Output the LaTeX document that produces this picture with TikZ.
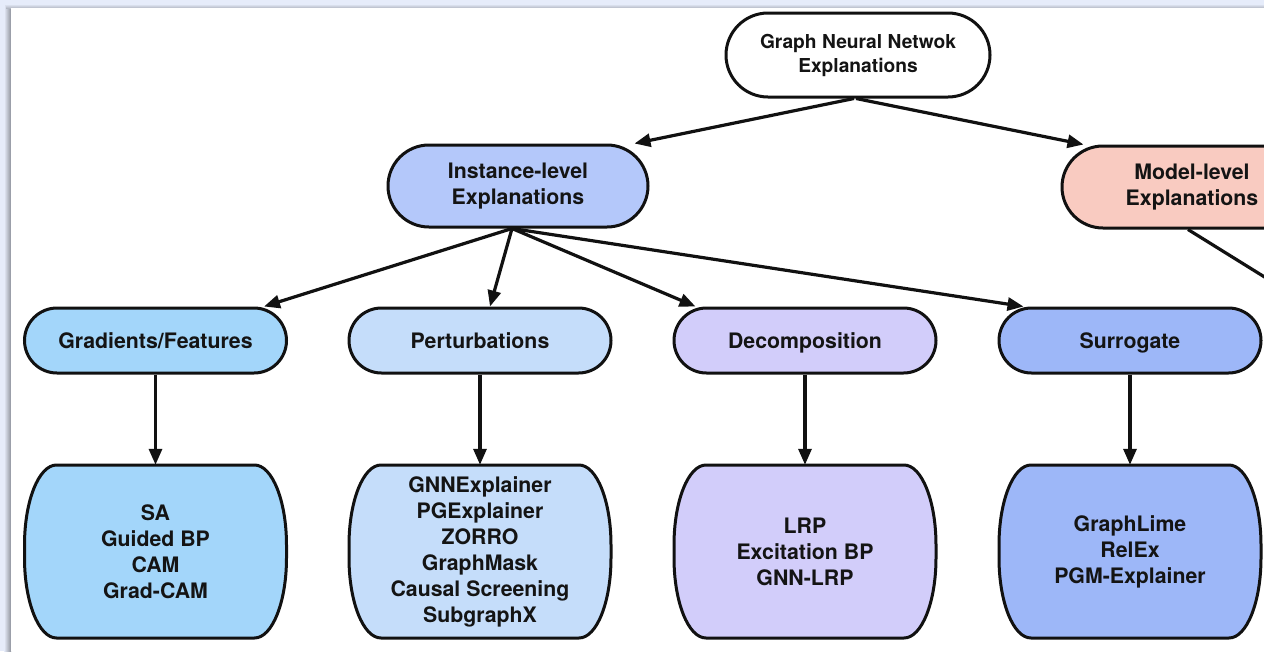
\documentclass[tikz,border=0pt]{standalone}
\usepackage{fontspec}
\setmainfont{TeX Gyre Heros}
\usetikzlibrary{arrows.meta}

\definecolor{framebg}{HTML}{E6ECFA}
\definecolor{inkline}{HTML}{111111}
\definecolor{instfill}{HTML}{B4C8FA}
\definecolor{modelfill}{HTML}{F9CBC1}
\definecolor{gradfill}{HTML}{A3D6FA}
\definecolor{pertfill}{HTML}{C5DDFA}
\definecolor{decofill}{HTML}{D2CDFA}
\definecolor{surrfill}{HTML}{9DB7F8}

% Leaf box: straight top and bottom, elliptically bulging sides.
% #1 name, #2 centre x, #3 centre y, #4 fill, #5 lines
\newcommand\leafbox[5]{%
  \draw[boxline, fill=#4]
    (#2-99,#3+86.5) -- (#2+99,#3+86.5)
    arc[start angle=90, end angle=0, x radius=32, y radius=80]
    -- (#2+131,#3-6.5)
    arc[start angle=0, end angle=-90, x radius=32, y radius=80]
    -- (#2-99,#3-86.5)
    arc[start angle=270, end angle=180, x radius=32, y radius=80]
    -- (#2-131,#3+6.5)
    arc[start angle=180, end angle=90, x radius=32, y radius=80]
    -- cycle;
  \node[lbl, minimum width=262pt, minimum height=173pt, inner sep=0pt] (#1) at (#2,#3) {#5};
}

\begin{document}
\begin{tikzpicture}[x=1pt, y=1pt,
  lbl/.style={font=\bfseries\fontsize{21.3}{26}\selectfont, align=center, text=black!92},
  boxline/.style={draw=inkline, line width=3pt},
  pill/.style={lbl, boxline, inner sep=0pt, rounded corners=#1},
  catbox/.style={pill=32.5pt, minimum width=262pt, minimum height=65pt,
                 text height=18pt, text depth=2pt},
  conn/.style={draw=inkline, line width=3.2pt, -{Triangle[length=16pt, width=13pt]}},
  plainconn/.style={draw=inkline, line width=3.2pt}
]
\useasboundingbox (0,0) rectangle (1264,-651);
\clip (0,0) rectangle (1264,-651);

% window frame, shadow and page
\fill[framebg] (0,0) rectangle (1264,-651);
\shade[left color=framebg, right color=black!38!framebg] (4,-5) rectangle (11,-651);
\shade[top color=framebg, bottom color=black!22!framebg] (6,-4) rectangle (1264,-8);
\fill[white] (11,-8) rectangle (1264,-651);

% root
\node[pill=42pt, fill=white, minimum width=264pt, minimum height=84pt,
      font=\bfseries\fontsize{19.2}{24}\selectfont] (root) at (858,-55)
  {Graph Neural Netwok\\Explanations};

% level of explanation
\node[pill=41pt, fill=instfill, minimum width=260pt, minimum height=82pt] (inst) at (518,-186)
  {Instance-level\\Explanations};
\node[pill=41pt, fill=modelfill, minimum width=260pt, minimum height=82pt] (model) at (1192,-187)
  {Model-level\\Explanations};

% method families
\node[catbox, fill=gradfill] (grad) at (155.5,-340.5) {Gradients/Features};
\node[catbox, fill=pertfill] (pert) at (480,-340.5) {Perturbations};
\node[catbox, fill=decofill] (deco) at (805,-340.5) {Decomposition};
\node[catbox, fill=surrfill] (surr) at (1130,-340.5) {Surrogate};

% methods
\leafbox{gradleaf}{155.5}{-551.5}{gradfill}{SA\\Guided BP\\CAM\\Grad-CAM}
\leafbox{pertleaf}{480}{-551.5}{pertfill}{GNNExplainer\\PGExplainer\\ZORRO\\GraphMask\\Causal Screening\\SubgraphX}
\leafbox{decoleaf}{805}{-551.5}{decofill}{LRP\\Excitation BP\\GNN-LRP}
\leafbox{surrleaf}{1130}{-551.5}{surrfill}{GraphLime\\RelEx\\PGM-Explainer}

% connectors
\draw[conn] ([xshift=-4pt]root.south) -- ([xshift=-15pt]inst.north east);
\draw[conn] ([xshift=-2pt]root.south) -- ([xshift=23pt]model.north west);

\draw[conn] ([xshift=-6pt]inst.south) -- ([xshift=-24pt]grad.north east);
\draw[conn] ([xshift=-6pt]inst.south) -- ([xshift=10pt]pert.north);
\draw[conn] ([xshift=-6pt]inst.south) -- ([xshift=23pt]deco.north west);
\draw[conn] ([xshift=-6pt]inst.south) -- ([xshift=26pt]surr.north west);

\coordinate (modelout) at (1300,-299);
\draw[plainconn] ([xshift=-4pt]model.south) -- (modelout);

\draw[conn] (grad.south) -- (gradleaf.north);
\draw[conn] (pert.south) -- (pertleaf.north);
\draw[conn] (deco.south) -- (decoleaf.north);
\draw[conn] (surr.south) -- (surrleaf.north);
\end{tikzpicture}
\end{document}
